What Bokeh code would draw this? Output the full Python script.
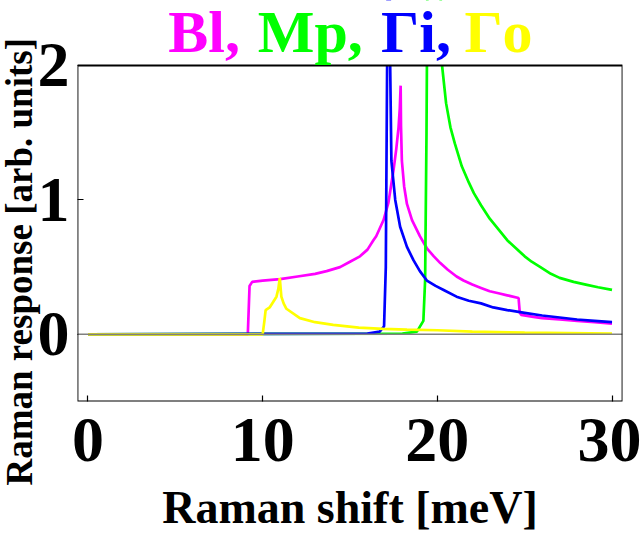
from bokeh.plotting import figure
from bokeh.models import Range1d, FixedTicker, Label, Span, BoxAnnotation, Title
from bokeh.embed import file_html
from bokeh.resources import INLINE

# ---- data ----
bl_x = [0, 9.15, 9.25, 9.4, 10, 11, 12, 13, 13.66, 14.43, 15, 15.57, 16, 16.34, 16.5, 16.92, 17.2, 17.49, 17.65,
        17.78, 17.85, 17.9, 17.92, 17.97, 18.1, 18.26, 18.55, 19, 19.4, 19.8, 20.17, 20.6, 21.1, 21.5, 22, 22.5,
        23, 23.5, 24, 24.65, 24.72, 24.8, 25.5, 26, 27, 28, 29, 30]
bl_y = [0, 0, 0.36, 0.39, 0.40, 0.41, 0.43, 0.45, 0.47, 0.50, 0.54, 0.58, 0.63, 0.70, 0.73, 0.85, 0.98, 1.22, 1.38,
        1.54, 1.68, 1.85, 1.55, 1.29, 1.1, 0.97, 0.85, 0.73, 0.64, 0.58, 0.53, 0.48, 0.43, 0.40, 0.37, 0.345,
        0.32, 0.305, 0.29, 0.27, 0.16, 0.145, 0.13, 0.12, 0.11, 0.10, 0.09, 0.08]

mp_x = [0, 18.0, 18.83, 19.2, 19.3, 19.38, 19.45, 19.8, 20.27, 20.5, 20.75, 21.0, 21.4, 21.8, 22.09, 22.5, 23,
        23.5, 24, 24.5, 25, 25.4, 25.9, 26.5, 27, 27.8, 28.5, 29.2, 30]
mp_y = [0, 0.005, 0.02, 0.1, 0.4, 1.5, 3.0, 5.0, 2.0, 1.72, 1.54, 1.42, 1.25, 1.13, 1.05, 0.96, 0.86,
        0.78, 0.70, 0.64, 0.58, 0.54, 0.50, 0.45, 0.42, 0.39, 0.37, 0.35, 0.33]

gi_x = [0, 16.0, 16.7, 16.95, 17.05, 17.1, 17.15, 17.25, 17.3, 17.37, 17.59, 17.87, 18.26, 18.64, 19.0, 19.4,
        19.9, 20.36, 21.1, 21.8, 22.5, 23.2, 24, 25, 26, 27, 28, 29, 30]
gi_y = [0, 0.005, 0.02, 0.06, 0.5, 1.5, 2.5, 3.0, 2.0, 1.29, 1.0, 0.80, 0.65, 0.55, 0.47, 0.40,
        0.36, 0.33, 0.28, 0.25, 0.23, 0.20, 0.18, 0.16, 0.14, 0.125, 0.11, 0.10, 0.09]

go_x = [0, 10.0, 10.1, 10.17, 10.4, 10.6, 10.79, 10.9, 10.98, 11.03, 11.07, 11.2, 11.36, 12.13, 13, 14.04, 15.5,
        16.9, 18.26, 20, 22, 25, 30]
go_y = [0, 0, 0.1, 0.18, 0.2, 0.24, 0.28, 0.34, 0.42, 0.34, 0.28, 0.23, 0.19, 0.12, 0.09, 0.07, 0.05,
        0.04, 0.035, 0.03, 0.02, 0.012, 0.005]

x_ticks = [0, 10, 20, 30]
y_ticks = [0, 1, 2]
title_parts = ["Bl,", "Mp,", "Γi,", "Γo"]
title_colors = ["#FF00FF", "#00FF00", "#0000FF", "#FFFF00"]
title_x = [4.6, 9.72, 16.78, 21.55]

FONT = "Liberation Serif"
Y_MIN, Y_MAX = -0.5, 2.0
Y_TOP = 2.4836  # extra room above the plot box for the coloured title
TITLE_Y = 2.247

p = figure(width=641, height=537, output_backend="svg", toolbar_location=None,
           x_range=Range1d(-0.6, 30.6), y_range=Range1d(Y_MIN, Y_TOP),
           min_border_left=77, min_border_right=19, min_border_top=0, min_border_bottom=136)
p.grid.visible = False
p.outline_line_color = None
p.background_fill_color = "white"
p.border_fill_color = "white"

p.add_layout(Span(location=0, dimension="width", line_color="#808080", line_width=1.5))

for xs, ys, c in [(bl_x, bl_y, "#FF00FF"), (mp_x, mp_y, "#00FF00"),
                  (gi_x, gi_y, "#0000FF"), (go_x, go_y, "#FFFF00")]:
    p.line(xs, ys, line_color=c, line_width=2.7)

for ax in (p.xaxis[0], p.yaxis[0]):
    ax.axis_line_color = None
    ax.major_tick_in = 6
    ax.major_tick_out = 0
    ax.minor_tick_line_color = None
    ax.major_tick_line_color = "black"
    ax.major_tick_line_width = 1.2
    ax.major_label_text_font = FONT
    ax.major_label_text_font_style = "bold"
    ax.major_label_text_font_size = "64px"
    ax.major_label_text_color = "black"

p.xaxis.ticker = FixedTicker(ticks=x_ticks)
p.yaxis.ticker = FixedTicker(ticks=y_ticks)
p.xaxis.major_label_standoff = 17
p.yaxis.major_label_standoff = 8

p.xaxis.axis_label = "Raman shift [meV]"
p.xaxis.axis_label_text_font = FONT
p.xaxis.axis_label_text_font_style = "bold"
p.xaxis.axis_label_text_font_size = "46px"
p.xaxis.axis_label_text_color = "black"
p.xaxis.axis_label_standoff = 18

# y-axis title, placed as a side title so it can sit off-centre like the reference
p.add_layout(Title(text="Raman response [arb. units]", align="left", offset=-84, standoff=-11,
                   text_font=FONT, text_font_style="bold", text_font_size="37px",
                   text_color="black"), "left")

# blank the area above the plot box, then draw the box
p.add_layout(BoxAnnotation(bottom=Y_MAX, fill_color="white", fill_alpha=1, line_color=None))
p.add_layout(BoxAnnotation(top=Y_MAX, fill_alpha=0, line_color="black", line_alpha=1, line_width=1.8))

for t, c, xx in zip(title_parts, title_colors, title_x):
    p.add_layout(Label(x=xx, y=TITLE_Y, text=t, text_color=c, text_font=FONT,
                       text_font_style="bold", text_font_size="60px", text_baseline="alphabetic"))

open("out.html", "w").write(file_html(p, INLINE))
